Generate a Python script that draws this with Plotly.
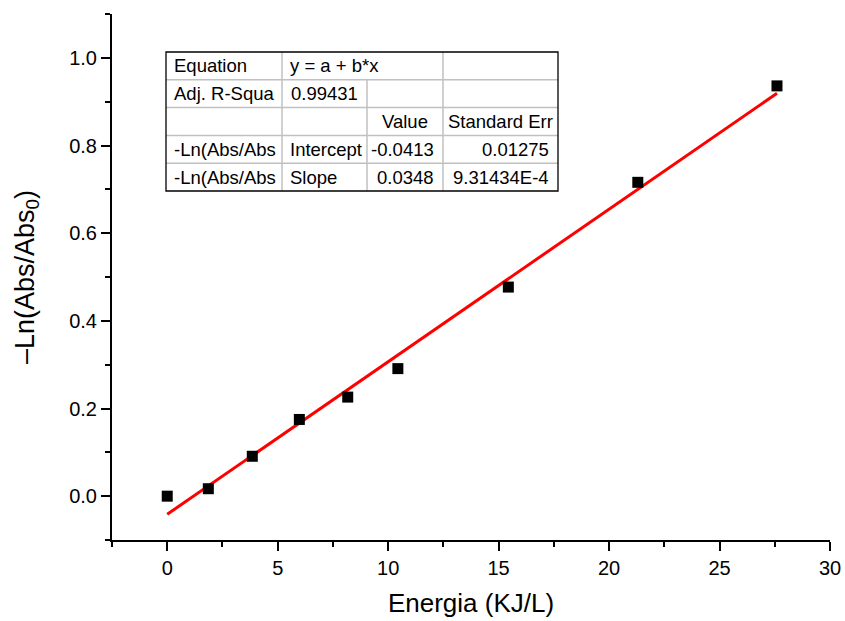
import plotly.graph_objects as go
import numpy as np

# ---------------- data ----------------
energia = [0.0, 1.86, 3.85, 5.98, 8.17, 10.44, 15.44, 21.3, 27.6]
ln_abs = [0.0, 0.017, 0.091, 0.175, 0.226, 0.291, 0.477, 0.716, 0.936]

fit_intercept = -0.0413
fit_slope = 0.0348

table_col1 = ["Equation", "Adj. R-Squa", "", "-Ln(Abs/Abs", "-Ln(Abs/Abs"]
table_col2 = ["y = a + b*x", "0.99431", "", "Intercept", "Slope"]
table_col3 = ["", "", "Value", "-0.0413", "0.0348"]
table_col4 = ["", "", "Standard Err", "0.01275", "9.31434E-4"]

x_ticks = [0, 5, 10, 15, 20, 25, 30]
y_ticks = [0.0, 0.2, 0.4, 0.6, 0.8, 1.0]

# ---------------- layout geometry ----------------
W, H = 845, 621
L, R, T, B = 112, 15, 14, 81
PW, PH = W - L - R, H - T - B
FONT = "Liberation Sans, Arial, sans-serif"


def px(xp):
    return (xp - L) / PW


def py(yp):
    return (H - B - yp) / PH


fit_x = np.array([min(energia), max(energia)])
fit_y = fit_intercept + fit_slope * fit_x

fig = go.Figure()
fig.add_trace(go.Scatter(x=fit_x, y=fit_y, mode="lines",
                         line=dict(color="#FF0000", width=3), showlegend=False))
fig.add_trace(go.Scatter(x=energia, y=ln_abs, mode="markers",
                         marker=dict(symbol="square", size=11, color="black"),
                         showlegend=False))

# ---------------- table ----------------
col_edges = [166, 282, 367, 443, 558]
row_top, row_h = 52, 27.8
row_edges = [row_top + i * row_h for i in range(6)]
shapes = []
grey = "#C0C0C0"
for yy in row_edges[1:-1]:
    shapes.append(dict(type="line", xref="paper", yref="paper",
                       x0=px(col_edges[0]), x1=px(col_edges[-1]), y0=py(yy), y1=py(yy),
                       line=dict(color=grey, width=1.5)))
for ci, xx in enumerate(col_edges[1:-1], start=1):
    start_row = 1 if ci == 2 else 0
    shapes.append(dict(type="line", xref="paper", yref="paper",
                       x0=px(xx), x1=px(xx), y0=py(row_edges[start_row]), y1=py(row_edges[-1]),
                       line=dict(color=grey, width=1.5)))
shapes.append(dict(type="rect", xref="paper", yref="paper",
                   x0=px(col_edges[0]), x1=px(col_edges[-1]),
                   y0=py(row_edges[-1]), y1=py(row_edges[0]),
                   line=dict(color="black", width=1.3)))

annotations = []
cols = [table_col1, table_col2, table_col3, table_col4]
for ri in range(5):
    yc = py(row_edges[ri] + row_h / 2)
    for ci in range(4):
        txt = cols[ci][ri]
        if not txt:
            continue
        if ci <= 1 and not (ci == 1 and ri == 1):
            xa, xx = "left", col_edges[ci] + 6
        elif ri == 2:
            xa, xx = "center", (col_edges[ci] + col_edges[ci + 1]) / 2
        else:
            xa, xx = "right", col_edges[ci + 1] - 7
        annotations.append(dict(text=txt, xref="paper", yref="paper", x=px(xx), y=yc,
                                xanchor=xa, yanchor="middle", showarrow=False,
                                font=dict(family=FONT, size=18.5, color="black")))

fig.update_layout(
    width=W, height=H,
    margin=dict(l=L, r=R, t=T, b=B),
    paper_bgcolor="white", plot_bgcolor="white",
    font=dict(family=FONT, color="black"),
    shapes=shapes, annotations=annotations,
    xaxis=dict(range=[-2.5, 30], tickvals=x_ticks, ticktext=[str(v) for v in x_ticks],
               automargin=False,
               ticks="outside", ticklen=9, tickwidth=2, tickcolor="black",
               showline=True, linecolor="black", linewidth=2,
               showgrid=False, zeroline=False,
               tickfont=dict(size=20, family=FONT),
               minor=dict(ticks="outside", ticklen=5, tickwidth=2, tickcolor="black",
                          tick0=-2.5, dtick=5, showgrid=False),
               title=dict(text="Energia (KJ/L)", font=dict(size=26, family=FONT), standoff=16)),
    yaxis=dict(range=[-0.1, 1.1], tickvals=y_ticks, ticktext=[f"{v:.1f}" for v in y_ticks],
               automargin=False,
               ticks="outside", ticklen=9, tickwidth=2, tickcolor="black",
               showline=True, linecolor="black", linewidth=2,
               showgrid=False, zeroline=False,
               tickfont=dict(size=20, family=FONT),
               minor=dict(ticks="outside", ticklen=5, tickwidth=2, tickcolor="black",
                          tick0=-0.1, dtick=0.2, showgrid=False),
               title=dict(text="–Ln(Abs/Abs<sub>0</sub>)", font=dict(size=27, family=FONT), standoff=27)),
)

fig.write_html("out.html")
